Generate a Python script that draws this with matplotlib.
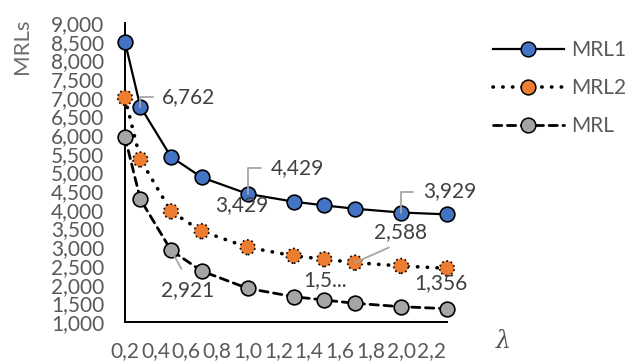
import matplotlib
matplotlib.use("Agg")
import matplotlib.pyplot as plt
from matplotlib.lines import Line2D
from matplotlib.legend_handler import HandlerTuple
from matplotlib.ticker import FuncFormatter, MultipleLocator

# lambda values and the three MRL curves
lam = [0.2, 0.3, 0.5, 0.7, 1.0, 1.3, 1.5, 1.7, 2.0, 2.3]
mrl1 = [8490, 6762, 5420, 4870, 4429, 4220, 4120, 4030, 3929, 3880]
mrl2 = [7000, 5350, 3960, 3429, 3000, 2770, 2680, 2588, 2500, 2436]
mrl = [5950, 4282, 2921, 2364, 1900, 1677, 1588, 1500, 1410, 1356]
series_names = ["MRL1", "MRL2", "MRL"]
x_ticks = [0.2, 0.4, 0.6, 0.8, 1.0, 1.2, 1.4, 1.6, 1.8, 2.0, 2.2]

FONT = "Lato"
TICK_GREY = "#595959"
LABEL_GREY = "#404040"
LEADER_GREY = "#a6a6a6"
FS = 15

W, H = 626, 363
fig = plt.figure(figsize=(W / 100, H / 100), dpi=100)
ax = fig.add_axes([125 / W, 1 - 322 / H, (447 - 125) / W, (322 - 23) / H])

styles = [
    dict(ls="-", lw=1.6, face="#4472c4", edge_ls="-"),
    dict(ls=(0, (0.1, 2.6)), lw=2.6, face="#ed7d31", edge_ls=":"),
    dict(ls=(0, (3, 2)), lw=2.0, face="#a5a5a5", edge_ls="-"),
]

handles = []
for vals, st in zip([mrl1, mrl2, mrl], styles):
    ax.plot(lam, vals, color="black", lw=st["lw"], ls=st["ls"],
            dash_capstyle="round", solid_capstyle="round", zorder=2, clip_on=False)
    ax.scatter(lam, vals, s=112, c=st["face"], edgecolors="black",
               linewidths=1.2, linestyles=st["edge_ls"], zorder=3, clip_on=False)
    line = Line2D([], [], color="black", lw=st["lw"], ls=st["ls"],
                  dash_capstyle="round")
    dot = Line2D([], [], ls="none", marker="o", ms=10.6, mfc=st["face"],
                 mec="black", mew=1.1)
    handles.append((line, dot))

ax.set_xlim(0.2, 2.3)
ax.set_ylim(1000, 9000)
ax.set_xticks(x_ticks)
ax.yaxis.set_major_locator(MultipleLocator(500))
ax.xaxis.set_major_formatter(FuncFormatter(lambda v, p: f"{v:.1f}".replace(".", ",")))
ax.yaxis.set_major_formatter(FuncFormatter(lambda v, p: f"{v:,.0f}"))
ax.tick_params(axis="both", length=0, labelsize=FS, labelcolor=TICK_GREY)
ax.tick_params(axis="y", pad=15)
ax.tick_params(axis="x", pad=14)
for lbl in ax.get_xticklabels() + ax.get_yticklabels():
    lbl.set_fontfamily(FONT)
for side in ("top", "right"):
    ax.spines[side].set_visible(False)
for side in ("left", "bottom"):
    ax.spines[side].set_linewidth(1.4)
    ax.spines[side].set_color("black")

# data labels: (series, index, offset in points, leader kind)
label_specs = [
    (mrl1, 1, (15.8, 7.2), "elbow"),
    (mrl1, 4, (16.3, 18.7), "elbow"),
    (mrl1, 8, (15.8, 15.1), "elbow"),
    (mrl2, 3, (29.0, 18.7), None),
    (mrl2, 7, (32.6, 21.8), "up"),
    (mrl, 2, (12.1, -28.8), "down"),
    (mrl, 6, (0.7, 14.4), "trunc"),
    (mrl, 9, (-4.2, 18.2), None),
]
for vals, i, off, kind in label_specs:
    text = f"{vals[i]:,.0f}"
    kw = dict(xy=(lam[i], vals[i]), xytext=off, textcoords="offset points",
              fontsize=FS, color=LABEL_GREY, fontfamily=FONT,
              va="center", ha="center", zorder=5, annotation_clip=False)
    if kind == "elbow":
        kw.update(ha="left", arrowprops=dict(
            arrowstyle="-", color=LEADER_GREY, lw=1.3, shrinkA=5, shrinkB=0,
            relpos=(0, 0.5), connectionstyle="angle,angleA=0,angleB=90,rad=0"))
    elif kind == "up":
        kw.update(arrowprops=dict(arrowstyle="-", color=LEADER_GREY, lw=1.3,
                                  shrinkA=4, shrinkB=0, relpos=(0.5, 0)))
    elif kind == "down":
        kw.update(arrowprops=dict(arrowstyle="-", color=LEADER_GREY, lw=1.3,
                                  shrinkA=7, shrinkB=0, relpos=(0.5, 1)))
    elif kind == "trunc":
        text = text[:3] + "..."
    ax.annotate(text, **kw)

fig.text(22 / W, 1 - 46 / H, "MRLs", rotation=90, ha="center", va="center",
         fontsize=16, color="#6d6d6d", fontfamily=FONT)
fig.text(503 / W, 1 - 342 / H, "λ", ha="center", va="center",
         fontsize=17, color=TICK_GREY, fontfamily="DejaVu Serif", style="italic")

fig.legend(handles, series_names,
           handler_map={tuple: HandlerTuple(ndivide=1)},
           loc="upper left", bbox_to_anchor=(493 / W, 1 - 40 / H),
           frameon=False, borderpad=0, borderaxespad=0, handlelength=3.4,
           handletextpad=0.35, labelspacing=0.86, numpoints=1,
           prop=dict(family=FONT, size=FS), labelcolor=TICK_GREY)

fig.savefig("out.png", dpi=100)
